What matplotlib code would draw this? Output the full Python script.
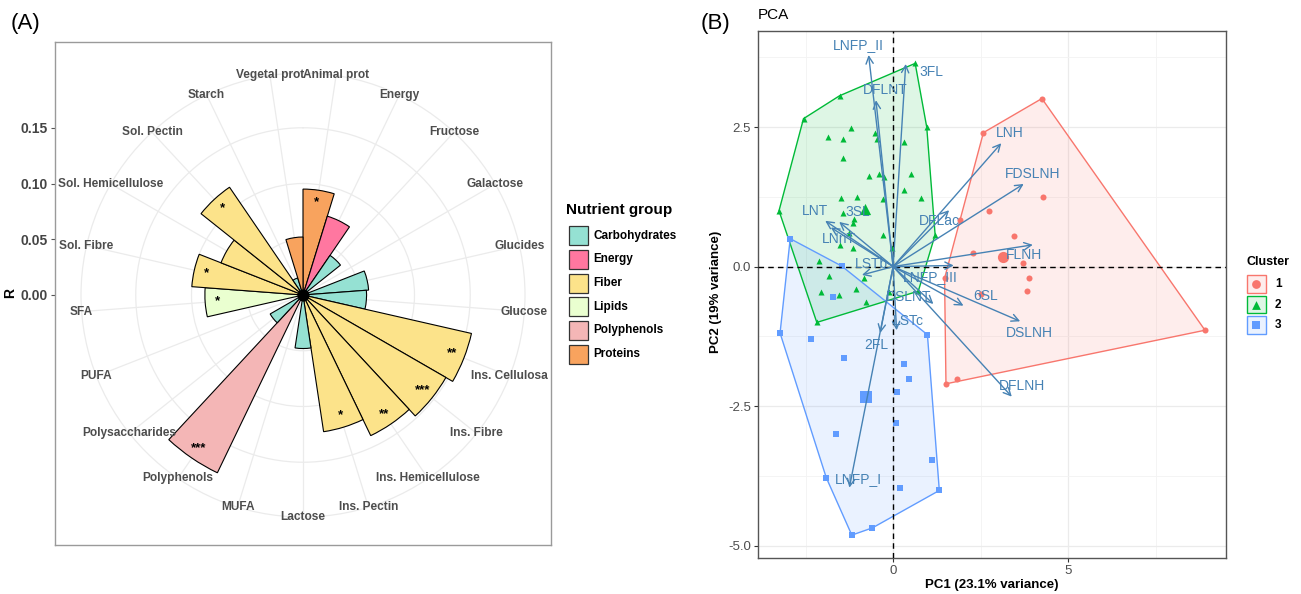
import numpy as np
import matplotlib
matplotlib.use('Agg')
import matplotlib.pyplot as plt
from matplotlib.patches import Rectangle, Polygon

plt.rcParams['font.family'] = ['Liberation Sans', 'DejaVu Sans']
plt.rcParams['axes.unicode_minus'] = False

W, H = 1301, 594

# ---------------- panel A : nutrient correlations (polar bars)
nutrients = ['Animal prot', 'Energy', 'Fructose', 'Galactose', 'Glucides', 'Glucose',
             'Ins. Cellulosa', 'Ins. Fibre', 'Ins. Hemicellulose', 'Ins. Pectin', 'Lactose',
             'MUFA', 'Polyphenols', 'Polysaccharides', 'PUFA', 'SFA', 'Sol. Fibre',
             'Sol. Hemicellulose', 'Sol. Pectin', 'Starch', 'Vegetal prot']
nutrient_group = ['Proteins', 'Energy', 'Carbohydrates', 'Carbohydrates', 'Carbohydrates',
                  'Carbohydrates', 'Fiber', 'Fiber', 'Fiber', 'Fiber', 'Carbohydrates',
                  'Lipids', 'Polyphenols', 'Carbohydrates', 'Lipids', 'Lipids', 'Fiber',
                  'Fiber', 'Fiber', 'Carbohydrates', 'Proteins']
r_values = [0.095, 0.074, 0.043, 0.002, 0.059, 0.057, 0.155, 0.148, 0.140, 0.124, 0.048,
            0.002, 0.177, 0.034, 0.002, 0.088, 0.100, 0.079, 0.117, 0.016, 0.052]
signif = ['*', '', '', '', '', '', '**', '***', '**', '*', '',
          '', '***', '', '', '*', '*', '', '*', '', '']

group_names = ['Carbohydrates', 'Energy', 'Fiber', 'Lipids', 'Polyphenols', 'Proteins']
group_colors = ['#95E1D3', '#FF77A0', '#FCE38A', '#EAFFD0', '#F4B6B6', '#F8A35E']

# ---------------- panel B : PCA
c1_pc1 = [4.25, 2.58, 1.91, 1.47, 1.51, 1.82, 8.91, 4.27, 2.73, 3.44, 2.29, 3.70, 3.88, 3.82, 2.51]
c1_pc2 = [3.01, 2.40, 0.83, -0.21, -2.10, -2.02, -1.14, 1.25, 1.00, 0.55, 0.24, 0.06, -0.21, -0.44, -0.49]

c2_pc1 = [-2.56, -1.53, 0.63, 0.96, 1.20, 0.72, -2.18, -3.26,
          -1.85, -1.44, -1.21, -0.51, -0.47, 0.30, -1.42, -0.69, -0.39, -0.26, 0.51, 0.30,
          -1.49, -1.04, -0.28, 0.80, -1.42, -1.11, -1.16, -1.25, -0.28, -1.51, -1.15, -0.02,
          -2.11, -1.82, -2.06, -1.54, -1.07, -0.83, -0.78, -0.11]
c2_pc2 = [2.65, 3.06, 3.64, 2.50, 0.57, -0.44, -1.00, 1.00,
          2.33, 2.28, 2.49, 2.39, 2.28, 2.24, 1.94, 1.62, 1.66, 1.60, 1.65, 1.38,
          1.23, 1.24, 1.21, 1.23, 0.96, 0.86, 0.78, 0.60, 0.57, 0.39, 0.33, 0.33,
          0.10, -0.16, -0.45, -0.51, -0.40, -0.21, -0.64, -0.46]

c3_pc1 = [-2.94, -1.47, -1.72, -3.23, -2.35, 0.98, -1.41, 0.32, 0.46, 0.12, 0.07,
          -1.64, 1.11, -1.91, 0.20, 1.32, -0.59, -1.18]
c3_pc2 = [0.50, 0.01, -0.55, -1.19, -1.29, -1.22, -1.63, -1.74, -2.02, -2.25, -2.80,
          -2.99, -3.47, -3.78, -3.96, -4.01, -4.68, -4.81]

centroid_pc1 = [3.15, -0.80, -0.77]
centroid_pc2 = [0.17, 1.03, -2.33]

cluster_names = ['1', '2', '3']
cluster_colors = ['#F8766D', '#00BA38', '#619CFF']
cluster_markers = ['o', '^', 's']

hmo = ['LNFP_II', '3FL', 'DFLNT', 'LNH', 'FDSLNH', 'DFLac', 'LNT', '3SL', 'LNnT', 'FLNH',
       'LSTb', 'LNFP_III', 'DSLNT', '6SL', 'DSLNH', 'DFLNH', 'LSTc', '2FL', 'LNFP_I']
load_pc1 = [-0.70, 0.36, -0.49, 3.09, 3.73, 1.60, -1.94, -1.54, -1.78, 3.99,
            -0.89, 1.73, 1.15, 2.01, 3.63, 3.39, 0.10, -0.37, -1.25]
load_pc2 = [3.79, 3.63, 2.98, 2.21, 1.48, 1.01, 0.82, 0.80, 0.70, 0.39,
            -0.15, 0.02, -0.67, -0.70, -0.98, -2.33, -1.14, -1.19, -3.96]
# where the text of each loading sits
text_pc1 = [-0.99, 1.08, -0.23, 3.34, 3.99, 1.31, -2.23, -1.02, -1.56, 3.73,
            -0.63, 1.06, 0.44, 2.63, 3.90, 3.68, 0.44, -0.49, -0.99]
text_pc2 = [3.97, 3.49, 3.16, 2.39, 1.65, 0.82, 0.99, 0.97, 0.50, 0.20,
            0.05, -0.19, -0.54, -0.52, -1.19, -2.14, -0.98, -1.41, -3.80]


def box(x0, y0, x1, y1):
    return [x0 / W, 1 - y1 / H, (x1 - x0) / W, (y1 - y0) / H]


def convex_hull(xs, ys):
    pts = sorted(set(zip(xs, ys)))

    def cross(o, a, b):
        return (a[0] - o[0]) * (b[1] - o[1]) - (a[1] - o[1]) * (b[0] - o[0])
    lower, upper = [], []
    for p in pts:
        while len(lower) >= 2 and cross(lower[-2], lower[-1], p) <= 0:
            lower.pop()
        lower.append(p)
    for p in reversed(pts):
        while len(upper) >= 2 and cross(upper[-2], upper[-1], p) <= 0:
            upper.pop()
        upper.append(p)
    return lower[:-1] + upper[:-1]


fig = plt.figure(figsize=(W / 100, H / 100), dpi=100)

# ----- panel A frame with R axis
cx, cy, rad = 303, 295, 222
rmax = max(r_values) / 0.4 * 0.45
axF = fig.add_axes(box(55, 42, 551, 545))
axF.set_xlim(0, 1)
axF.set_ylim(-(545 - cy) / rad * rmax, (cy - 42) / rad * rmax)
axF.set_xticks([])
axF.set_yticks([0, 0.05, 0.10, 0.15])
axF.set_yticklabels(['0.00', '0.05', '0.10', '0.15'], fontsize=10, fontweight='bold', color='#444444')
axF.tick_params(axis='y', length=3, color='#555555', pad=2)
axF.set_ylabel('R', fontsize=10, fontweight='bold', labelpad=3)
for s in axF.spines.values():
    s.set_color('#9A9A9A')
    s.set_linewidth(1.0)

axP = fig.add_axes(box(cx - rad, cy - rad, cx + rad, cy + rad), projection='polar')
axP.patch.set_alpha(0)
axP.set_theta_zero_location('N')
axP.set_theta_direction(-1)
n = len(nutrients)
theta = (np.arange(n) + 0.5) * 2 * np.pi / n
bar_cols = [group_colors[group_names.index(g)] for g in nutrient_group]
axP.bar(theta, r_values, width=2 * np.pi / n, bottom=0, color=bar_cols,
        edgecolor='black', linewidth=0.8, zorder=3)
axP.scatter([0], [0], s=60, color='black', zorder=4)
axP.set_ylim(0, rmax)
axP.set_xticks(theta)
axP.set_xticklabels([])
axP.set_yticks([0.05, 0.10, 0.15])
axP.set_yticklabels([])
axP.grid(True, color='#EBEBEB', linewidth=0.9)
axP.spines['polar'].set_color('#EBEBEB')
axP.spines['polar'].set_linewidth(0.9)
axP.set_axisbelow(True)
for t, lab in zip(theta, nutrients):
    axP.text(t, rmax, lab, ha='center', va='center', fontsize=8.6,
             fontweight='bold', color='#4D4D4D', zorder=5)
for t, rv, st in zip(theta, r_values, signif):
    if st:
        axP.text(t, rv - 0.011, st, ha='center', va='center', fontsize=9.5,
                 fontweight='bold', color='black', zorder=5)

# ----- panel B
axB = fig.add_axes(box(758, 31, 1226, 558))
axB.set_xlim(-3.86, 9.51)
axB.set_ylim(-5.22, 4.22)
axB.set_xticks([0, 5])
axB.set_xticks([-2.5, 2.5, 7.5], minor=True)
axB.set_yticks([-5.0, -2.5, 0.0, 2.5])
axB.set_yticklabels(['-5.0', '-2.5', '0.0', '2.5'])
axB.set_yticks([-3.75, -1.25, 1.25, 3.75], minor=True)
axB.grid(True, which='major', color='#EBEBEB', linewidth=0.9)
axB.grid(True, which='minor', color='#F3F3F3', linewidth=0.6)
axB.set_axisbelow(True)
axB.tick_params(which='major', length=3, color='#333333', labelsize=9.5, labelcolor='#4D4D4D', pad=2)
axB.tick_params(which='minor', length=0)
for s in axB.spines.values():
    s.set_color('#555555')
    s.set_linewidth(1.0)

clusters = [(c1_pc1, c1_pc2), (c2_pc1, c2_pc2), (c3_pc1, c3_pc2)]
for (xs, ys), col in zip(clusters, cluster_colors):
    hull = convex_hull(xs, ys)
    axB.add_patch(Polygon(hull, closed=True, facecolor=col, alpha=0.13, edgecolor='none', zorder=1))
    axB.add_patch(Polygon(hull, closed=True, facecolor='none', edgecolor=col, linewidth=1.0, zorder=2))
for (xs, ys), col, mk in zip(clusters, cluster_colors, cluster_markers):
    axB.scatter(xs, ys, s=19, marker=mk, color=col, linewidths=0, zorder=3)
for i in range(3):
    axB.scatter([centroid_pc1[i]], [centroid_pc2[i]], s=65, marker=cluster_markers[i],
                color=cluster_colors[i], linewidths=0, zorder=3)

axB.axhline(0, color='black', linestyle=(0, (4, 3)), linewidth=1.0, zorder=4)
axB.axvline(0, color='black', linestyle=(0, (4, 3)), linewidth=1.0, zorder=4)

arrow_col = '#4682B4'
for name, x, y, tx, ty in zip(hmo, load_pc1, load_pc2, text_pc1, text_pc2):
    axB.annotate('', xy=(x, y), xytext=(0, 0),
                 arrowprops=dict(arrowstyle='->', color=arrow_col, lw=1.0,
                                 shrinkA=0, shrinkB=0, mutation_scale=13), zorder=5)
    axB.text(tx, ty, name, ha='center', va='center', fontsize=10, color=arrow_col, zorder=6)

# ----- overlay for titles and legends (pixel coordinates)
ov = fig.add_axes([0, 0, 1, 1])
ov.set_xlim(0, W)
ov.set_ylim(H, 0)
ov.axis('off')
ov.patch.set_alpha(0)

ov.text(11, 23, '(A)', fontsize=16, va='center', ha='left')
ov.text(701, 23, '(B)', fontsize=16, va='center', ha='left')
ov.text(758, 15, 'PCA', fontsize=11, va='center', ha='left')
ov.text(716, 292, 'PC2 (19% variance)', fontsize=9.5, fontweight='bold',
        rotation=90, ha='center', va='center')
ov.text(992, 585, 'PC1 (23.1% variance)', fontsize=9.5, fontweight='bold',
        ha='center', va='center')

# legend A
ov.text(566, 210, 'Nutrient group', fontsize=11, fontweight='bold', va='center', ha='left')
for i, (g, c) in enumerate(zip(group_names, group_colors)):
    yc = 235.7 + i * 23.7
    ov.add_patch(Rectangle((568.5, yc - 9.5), 19, 19, facecolor=c, edgecolor='#333333', linewidth=0.9))
    ov.text(593, yc, g, fontsize=8.5, fontweight='bold', va='center', ha='left')

# legend B
ov.text(1246.5, 262, 'Cluster', fontsize=9, fontweight='bold', va='center', ha='left')
for i, (nm, c, mk) in enumerate(zip(cluster_names, cluster_colors, cluster_markers)):
    yc = 284 + i * 20.5
    ov.add_patch(Rectangle((1247, yc - 8.8), 18.5, 17.6, facecolor=c, alpha=0.13, edgecolor='none'))
    ov.add_patch(Rectangle((1247, yc - 8.8), 18.5, 17.6, facecolor='none', edgecolor=c, linewidth=1.0))
    ov.scatter([1256.2], [yc], s=40, marker=mk, color=c, linewidths=0)
    ov.text(1275, yc, nm, fontsize=8.5, fontweight='bold', va='center', ha='left')

fig.savefig('out.png', dpi=100)
